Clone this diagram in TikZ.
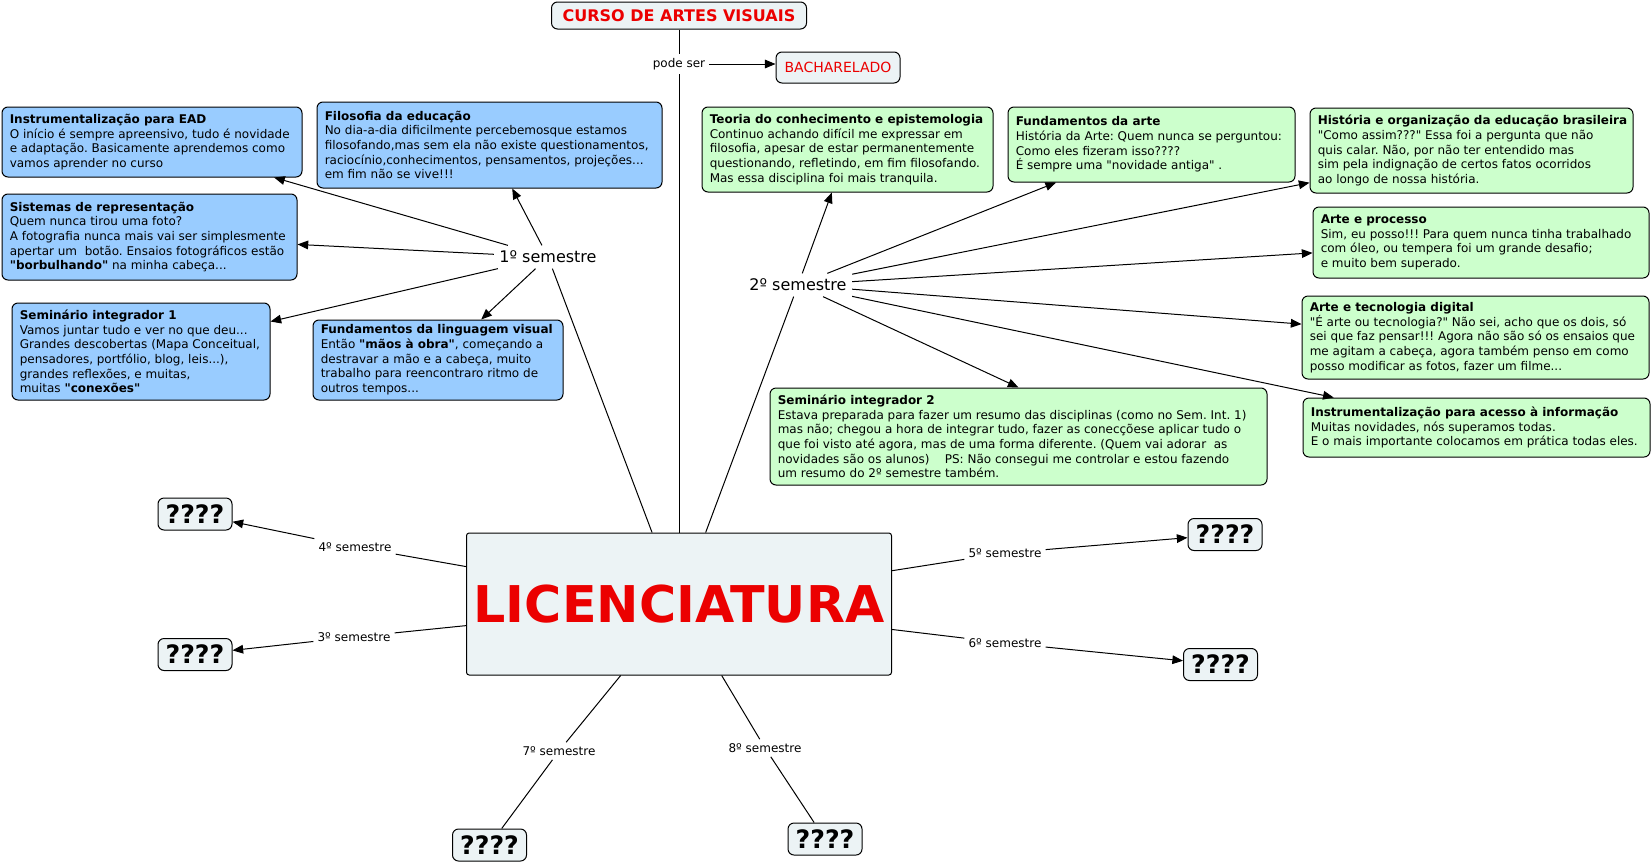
\documentclass[tikz,border=0pt]{standalone}
\usepackage{fontspec}
\setmainfont{DejaVu Sans}[Ligatures=TeXOff]
\usetikzlibrary{arrows.meta,calc}
\definecolor{cblue}{RGB}{153,204,255}
\definecolor{cgreen}{RGB}{204,255,204}
\definecolor{cgray}{RGB}{236,243,245}
\definecolor{cred}{RGB}{235,0,0}
\frenchspacing
\tikzset{
  boxsty/.style={draw, rounded corners=4.5pt, line width=0.75pt, inner sep=0pt},
  txtsty/.style={align=left, inner sep=0pt, font=\fontsize{9}{11}\selectfont},
  lab/.style={inner sep=3pt, font=\fontsize{9}{10}\selectfont},
  biglab/.style={inner sep=4pt, font=\fontsize{12}{14}\selectfont},
  qbox/.style={boxsty, fill=cgray, minimum width=55.5pt, minimum height=24pt, font=\fontsize{19}{20}\selectfont\bfseries},
  ln/.style={line width=0.75pt},
  arr/.style={ln, -{Triangle[length=8pt,width=6.5pt]}}
}
\newcommand\cmbox[7]{%
  \node[boxsty, fill=#6, minimum width={#4*0.75pt}, minimum height={#5*0.75pt}] (#1) at (#2,#3) {};
  \node[txtsty, anchor=west] (#1-t) at ([xshift=6pt]#1.west) {#7};
}
\begin{document}
\begin{tikzpicture}[x=0.75pt,y=-0.75pt]
\useasboundingbox[fill=white] (0,0) rectangle (1651,864);

% top
\node[boxsty, fill=cgray, minimum width={255*0.75pt}, minimum height={27*0.75pt}, text=cred, font=\fontsize{12}{14}\selectfont\bfseries] (curso) at (679,15.5) {CURSO DE ARTES VISUAIS};
\node[lab] (pode) at (679,64) {pode ser};
\node[boxsty, fill=cgray, minimum width={124*0.75pt}, minimum height={31*0.75pt}, text=cred, font=\fontsize{10.5}{12}\selectfont] (bach) at (838,67.5) {BACHARELADO};
\node[boxsty, rounded corners=2pt, fill=cgray, minimum width={425*0.75pt}, minimum height={142*0.75pt}, text=cred, font=\fontsize{38}{40}\selectfont\bfseries] (lic) at (679,604) {LICENCIATURA};

\draw[ln] (curso) -- (pode);
\draw[ln] (pode) -- (lic);
\draw[arr] (pode) -- (pode -| bach.west);

% semester labels
\node[biglab] (s1) at (548,257) {1º semestre};
\node[biglab] (s2) at (798,285) {2º semestre};

% blue boxes
\cmbox{ead}{152}{142}{300}{70}{cblue}{\textbf{Instrumentalização para EAD}\\O início é sempre apreensivo, tudo é novidade\\e adaptação. Basicamente aprendemos como\\vamos aprender no curso}
\cmbox{sis}{149.5}{237}{295}{86}{cblue}{\textbf{Sistemas de representação}\\Quem nunca tirou uma foto?\\A fotografia nunca mais vai ser simplesmente\\apertar um\ \ botão. Ensaios fotográficos estão\\\textbf{"borbulhando"} na minha cabeça...}
\cmbox{filo}{489.5}{145}{345}{86}{cblue}{\textbf{Filosofia da educação}\\No dia-a-dia dificilmente percebemosque estamos\\filosofando,mas sem ela não existe questionamentos,\\raciocínio,conhecimentos, pensamentos, projeções...\\em fim não se vive!!!}
\cmbox{sem1}{141}{351.5}{258}{97}{cblue}{\textbf{Seminário integrador 1}\\Vamos juntar tudo e ver no que deu...\\Grandes descobertas (Mapa Conceitual,\\pensadores, portfólio, blog, leis...),\\grandes reflexões, e muitas,\\muitas \textbf{"conexões"}}
\cmbox{fund}{438}{360}{250}{80}{cblue}{\textbf{Fundamentos da linguagem visual}\\Então \textbf{"mãos à obra"}, começando a\\destravar a mão e a cabeça, muito\\trabalho para reencontraro ritmo de\\outros tempos...}

% green boxes
\cmbox{teo}{847.5}{149.5}{291}{85}{cgreen}{\textbf{Teoria do conhecimento e epistemologia}\\Continuo achando difícil me expressar em\\filosofia, apesar de estar permanentemente\\questionando, refletindo, em fim filosofando.\\Mas essa disciplina foi mais tranquila.}
\cmbox{farte}{1151.5}{144.5}{287}{75}{cgreen}{\textbf{Fundamentos da arte}\\História da Arte: Quem nunca se perguntou:\\Como eles fizeram isso????\\É sempre uma "novidade antiga" .}
\cmbox{hist}{1471.5}{150.5}{323}{85}{cgreen}{\textbf{História e organização da educação brasileira}\\"Como assim???" Essa foi a pergunta que não\\quis calar. Não, por não ter entendido mas\\sim pela indignação de certos fatos ocorridos\\ao longo de nossa história.}
\cmbox{proc}{1481}{242.5}{336}{71}{cgreen}{\textbf{Arte e processo}\\Sim, eu posso!!! Para quem nunca tinha trabalhado\\com óleo, ou tempera foi um grande desafio;\\e muito bem superado.}
\cmbox{tec}{1475.5}{337.5}{347}{83}{cgreen}{\textbf{Arte e tecnologia digital}\\"É arte ou tecnologia?" Não sei, acho que os dois, só\\sei que faz pensar!!! Agora não são só os ensaios que\\me agitam a cabeça, agora também penso em como\\posso modificar as fotos, fazer um filme...}
\cmbox{aces}{1476.5}{427.5}{347}{59}{cgreen}{\textbf{Instrumentalização para acesso à informação}\\Muitas novidades, nós superamos todas.\\E o mais importante colocamos em prática todas eles.}
\cmbox{sem2}{1018.5}{436.5}{497}{97}{cgreen}{\textbf{Seminário integrador 2}\\Estava preparada para fazer um resumo das disciplinas (como no Sem. Int. 1)\\mas não; chegou a hora de integrar tudo, fazer as conecçõese aplicar tudo o\\que foi visto até agora, mas de uma forma diferente. (Quem vai adorar\ \ as\\novidades são os alunos)\ \ \ \ PS: Não consegui me controlar e estou fazendo\\um resumo do 2º semestre também.}

\draw[ln] (lic) -- (s1);
\draw[ln] (lic) -- (s2);
\foreach \t in {ead,sis,filo,sem1,fund} \draw[arr] (s1) -- (\t);
\foreach \t in {teo,farte,hist,proc,tec,aces} \draw[arr] (s2) -- (\t);
\draw[arr] (s2) -- (sem2.north);

% other semesters
\node[qbox] (q4) at (195,514) {????};
\node[qbox] (q3) at (195,654.5) {????};
\node[qbox] (q5) at (1225,534.5) {????};
\node[qbox] (q6) at (1220.5,664.5) {????};
\node[qbox] (q7) at (489.5,845) {????};
\node[qbox] (q8) at (825,839) {????};
\node[lab] (l4) at (355,547) {4º semestre};
\node[lab] (l3) at (354,637) {3º semestre};
\node[lab] (l5) at (1005,553) {5º semestre};
\node[lab] (l6) at (1005,643) {6º semestre};
\node[lab] (l7) at (559,751) {7º semestre};
\node[lab] (l8) at (765,748) {8º semestre};
\foreach \l in {l4,l3,l5,l6,l7,l8} {
  \draw[ln] (lic) -- (\l);
}
\foreach \l/\q in {l4/q4,l3/q3,l5/q5,l6/q6} {
  \draw[arr] (\l) -- (\q);
}
\draw[ln] (l7) -- (q7);
\draw[ln] (l8) -- (q8);
\end{tikzpicture}
\end{document}
